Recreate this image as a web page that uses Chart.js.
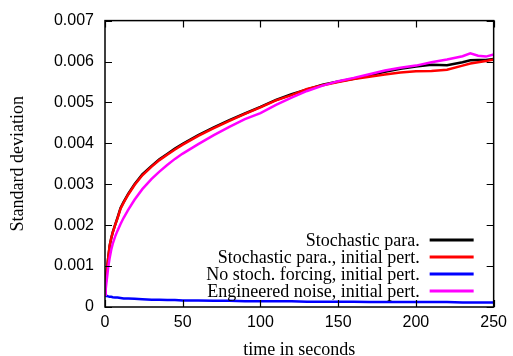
<!DOCTYPE html>
<html>
<head>
<meta charset="utf-8">
<script src="https://cdn.jsdelivr.net/npm/chart.js@4"></script>
<style>
html,body{margin:0;padding:0;background:#fff;}
#wrap{width:513px;height:356px;position:relative;}
</style>
</head>
<body>
<div id="wrap"><canvas id="c" width="513" height="356"></canvas></div>
<script>
const seriesNames = ["Stochastic para.", "Stochastic para., initial pert.", "No stoch. forcing, initial pert.", "Engineered noise, initial pert."];
const seriesColors = ["#000000", "#ff0000", "#0000ff", "#ff00ff"];
const time = [0, 0.5, 1, 1.5, 2, 3, 4, 5, 6.5, 8, 10, 12, 15, 19, 24, 30, 35, 40, 45, 50, 60, 70, 80, 90, 100, 110, 120, 130, 140, 150, 160, 170, 180, 190, 200, 210, 220, 230, 235, 240, 245, 250];
const stochPara = [0.00030, 0.00060, 0.00082, 0.00100, 0.00118, 0.00150, 0.00168, 0.00183, 0.00201, 0.00218, 0.00242, 0.00257, 0.00277, 0.00300, 0.00324, 0.00345, 0.00361, 0.00374, 0.00387, 0.00399, 0.00420, 0.00439, 0.00457, 0.00473, 0.00489, 0.00506, 0.00520, 0.00532, 0.00543, 0.00551, 0.00558, 0.00566, 0.00575, 0.00582, 0.00588, 0.00592, 0.00591, 0.00598, 0.00603, 0.00604, 0.00604, 0.00606];
const stochParaPert = [0.00030, 0.00060, 0.00082, 0.00100, 0.00118, 0.00150, 0.00168, 0.00182, 0.00200, 0.00216, 0.00240, 0.00255, 0.00275, 0.00298, 0.00322, 0.00343, 0.00359, 0.00372, 0.00385, 0.00397, 0.00418, 0.00437, 0.00455, 0.00472, 0.00488, 0.00505, 0.00518, 0.00533, 0.00542, 0.00550, 0.00557, 0.00563, 0.00568, 0.00573, 0.00576, 0.00577, 0.00580, 0.00590, 0.00595, 0.00598, 0.00601, 0.00605];
const noStochPert = [0.00029, 0.00028, 0.00027, 0.00027, 0.00026, 0.00025, 0.00025, 0.00024, 0.00023, 0.00023, 0.00022, 0.00021, 0.00021, 0.00020, 0.00019, 0.00018, 0.00018, 0.00017, 0.00017, 0.00016, 0.00016, 0.00015, 0.00015, 0.00014, 0.00014, 0.00014, 0.00014, 0.00013, 0.00013, 0.00013, 0.00013, 0.00012, 0.00012, 0.00012, 0.00012, 0.00012, 0.00012, 0.00011, 0.00011, 0.00011, 0.00011, 0.00011];
const engNoisePert = [0.00030, 0.00045, 0.00062, 0.00078, 0.00095, 0.00120, 0.00140, 0.00155, 0.00172, 0.00186, 0.00203, 0.00218, 0.00238, 0.00262, 0.00288, 0.00313, 0.00331, 0.00347, 0.00362, 0.00375, 0.00398, 0.00420, 0.00440, 0.00459, 0.00474, 0.00494, 0.00512, 0.00528, 0.00541, 0.00552, 0.00560, 0.00569, 0.00578, 0.00585, 0.00590, 0.00598, 0.00605, 0.00613, 0.00620, 0.00614, 0.00612, 0.00617];
const xTicks = [0, 50, 100, 150, 200, 250];
const yTicks = [0, 0.001, 0.002, 0.003, 0.004, 0.005, 0.006, 0.007];
const xTitle = "time in seconds";
const yTitle = "Standard deviation";

const SERIF = "'Liberation Serif', 'DejaVu Serif', serif";
const SANS = "'Liberation Sans', Arial, sans-serif";

const allSeries = [stochPara, stochParaPert, noStochPert, engNoisePert];
const drawOrder = [3, 2, 1, 0];
const datasets = allSeries.map((vals, i) => ({
  label: seriesNames[i],
  data: time.map((t, j) => ({x: t, y: vals[j]})),
  borderColor: seriesColors[i],
  backgroundColor: seriesColors[i],
  borderWidth: 2.5,
  pointRadius: 0,
  tension: 0,
  fill: false,
  order: drawOrder[i]
}));

const frame = {
  id: 'frame',
  afterDatasetsDraw(chart) {
    const ctx = chart.ctx;
    const a = chart.chartArea;
    const xs = chart.scales.x, ys = chart.scales.y;
    ctx.save();
    ctx.strokeStyle = '#000';
    ctx.lineWidth = 1.2;
    const tl = 7;
    ctx.beginPath();
    xTicks.forEach(v => {
      const px = Math.round(xs.getPixelForValue(v)) + 0.5;
      ctx.moveTo(px, a.bottom); ctx.lineTo(px, a.bottom - tl);
      ctx.moveTo(px, a.top); ctx.lineTo(px, a.top + tl);
    });
    yTicks.forEach(v => {
      const py = Math.round(ys.getPixelForValue(v)) + 0.5;
      ctx.moveTo(a.left, py); ctx.lineTo(a.left + tl, py);
      ctx.moveTo(a.right, py); ctx.lineTo(a.right - tl, py);
    });
    ctx.stroke();
    ctx.lineWidth = 1.5;
    ctx.strokeRect(a.left, a.top, a.right - a.left, a.bottom - a.top);
    // legend
    ctx.font = "18px " + SERIF;
    ctx.textAlign = 'right';
    ctx.textBaseline = 'middle';
    ctx.fillStyle = '#000';
    const lx = a.right - 74;
    const ly0 = a.bottom - 67;
    chart.data.datasets.forEach((ds, i) => {
      const y = ly0 + i * 17;
      ctx.fillText(ds.label, lx, y + 1);
      ctx.strokeStyle = ds.borderColor;
      ctx.lineWidth = 3;
      ctx.beginPath();
      ctx.moveTo(lx + 10, y); ctx.lineTo(lx + 54, y);
      ctx.stroke();
    });
    ctx.restore();
  }
};

new Chart(document.getElementById('c'), {
  type: 'line',
  data: { datasets },
  options: {
    responsive: false,
    animation: false,
    layout: { padding: { top: 14, right: 17, left: 0, bottom: 0 } },
    plugins: { legend: { display: false }, tooltip: { enabled: false } },
    scales: {
      x: {
        type: 'linear', min: 0, max: 250,
        afterBuildTicks: s => { s.ticks = xTicks.map(v => ({value: v})); },
        afterFit: s => { s.height = 49; },
        grid: { display: false, drawTicks: false },
        border: { display: false },
        ticks: { color: '#000', font: { family: SANS, size: 16 }, padding: 6, maxRotation: 0, autoSkip: false },
        title: { display: true, text: xTitle, color: '#000', font: { family: SERIF, size: 18, lineHeight: 0.67 }, padding: { top: 0, bottom: 0 } }
      },
      y: {
        type: 'linear', min: 0, max: 0.007,
        afterBuildTicks: s => { s.ticks = yTicks.map(v => ({value: v})); },
        afterFit: s => { s.width = 105; },
        grid: { display: false, drawTicks: false },
        border: { display: false },
        ticks: { color: '#000', font: { family: SANS, size: 16 }, padding: 11, autoSkip: false,
          callback: v => v === 0 ? '0' : v.toFixed(3) },
        title: { display: true, text: yTitle, color: '#000', font: { family: SERIF, size: 18, lineHeight: 0.67 }, padding: { top: 12, bottom: 0 } }
      }
    }
  },
  plugins: [frame]
});
</script>
</body>
</html>
